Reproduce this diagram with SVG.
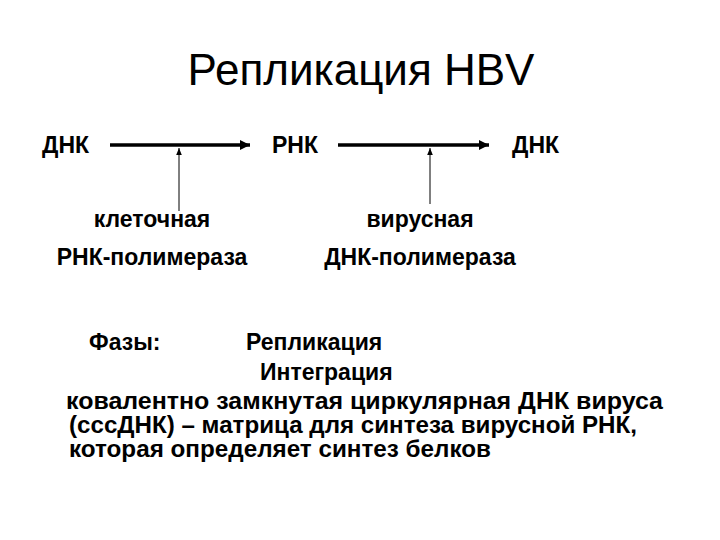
<svg xmlns="http://www.w3.org/2000/svg" width="720" height="540" viewBox="0 0 720 540">
<style>
.t{font-family:"Liberation Sans",Arial,sans-serif;font-size:23px;font-weight:bold;fill:#000}
.h{font-family:"Liberation Sans",Arial,sans-serif;font-size:44px;fill:#000}
</style>
<defs>
<marker id="a" viewBox="0 0 10 10" refX="10" refY="5" markerWidth="3" markerHeight="3" orient="auto"><path d="M0,0L10,5L0,10z"/></marker>
<marker id="b" viewBox="0 0 10 10" refX="10" refY="5" markerWidth="7" markerHeight="7" orient="auto"><path d="M0,1L10,5L0,9z"/></marker>
</defs>
<rect width="720" height="540" fill="#fff"/>
<text class="h" x="361" y="85" text-anchor="middle">Репликация HBV</text>
<g id="n1"><text class="t" x="42" y="153">ДНК</text></g>
<g id="n2"><text class="t" x="272" y="153">РНК</text></g>
<g id="n3"><text class="t" x="512" y="153">ДНК</text></g>
<g id="n4"><text class="t" x="152" y="227" text-anchor="middle">клеточная</text><text class="t" x="152" y="265" text-anchor="middle">РНК-полимераза</text></g>
<g id="n5"><text class="t" x="420" y="227" text-anchor="middle">вирусная</text><text class="t" x="420" y="265" text-anchor="middle">ДНК-полимераза</text></g>
<g id="connectors">
<line x1="110" y1="145" x2="250" y2="145" stroke="#000" stroke-width="3.5" marker-end="url(#a)"/>
<line x1="338" y1="145" x2="489" y2="145" stroke="#000" stroke-width="3.5" marker-end="url(#a)"/>
<line x1="179" y1="211" x2="179" y2="148" stroke="#000" stroke-width="1" marker-end="url(#b)"/>
<line x1="430" y1="204" x2="430" y2="148" stroke="#000" stroke-width="1" marker-end="url(#b)"/>
</g>
<g id="text">
<text class="t" x="89" y="350">Фазы:</text>
<text class="t" x="246" y="350">Репликация</text>
<text class="t" x="260" y="380">Интеграция</text>
<text class="t" x="66" y="409" textLength="597" lengthAdjust="spacingAndGlyphs">ковалентно замкнутая циркулярная ДНК вируса</text>
<text class="t" x="69" y="433" textLength="568" lengthAdjust="spacingAndGlyphs">(cccДНК) – матрица для синтеза вирусной РНК,</text>
<text class="t" x="69" y="457" textLength="422" lengthAdjust="spacingAndGlyphs">которая определяет синтез белков</text>
</g>
</svg>
